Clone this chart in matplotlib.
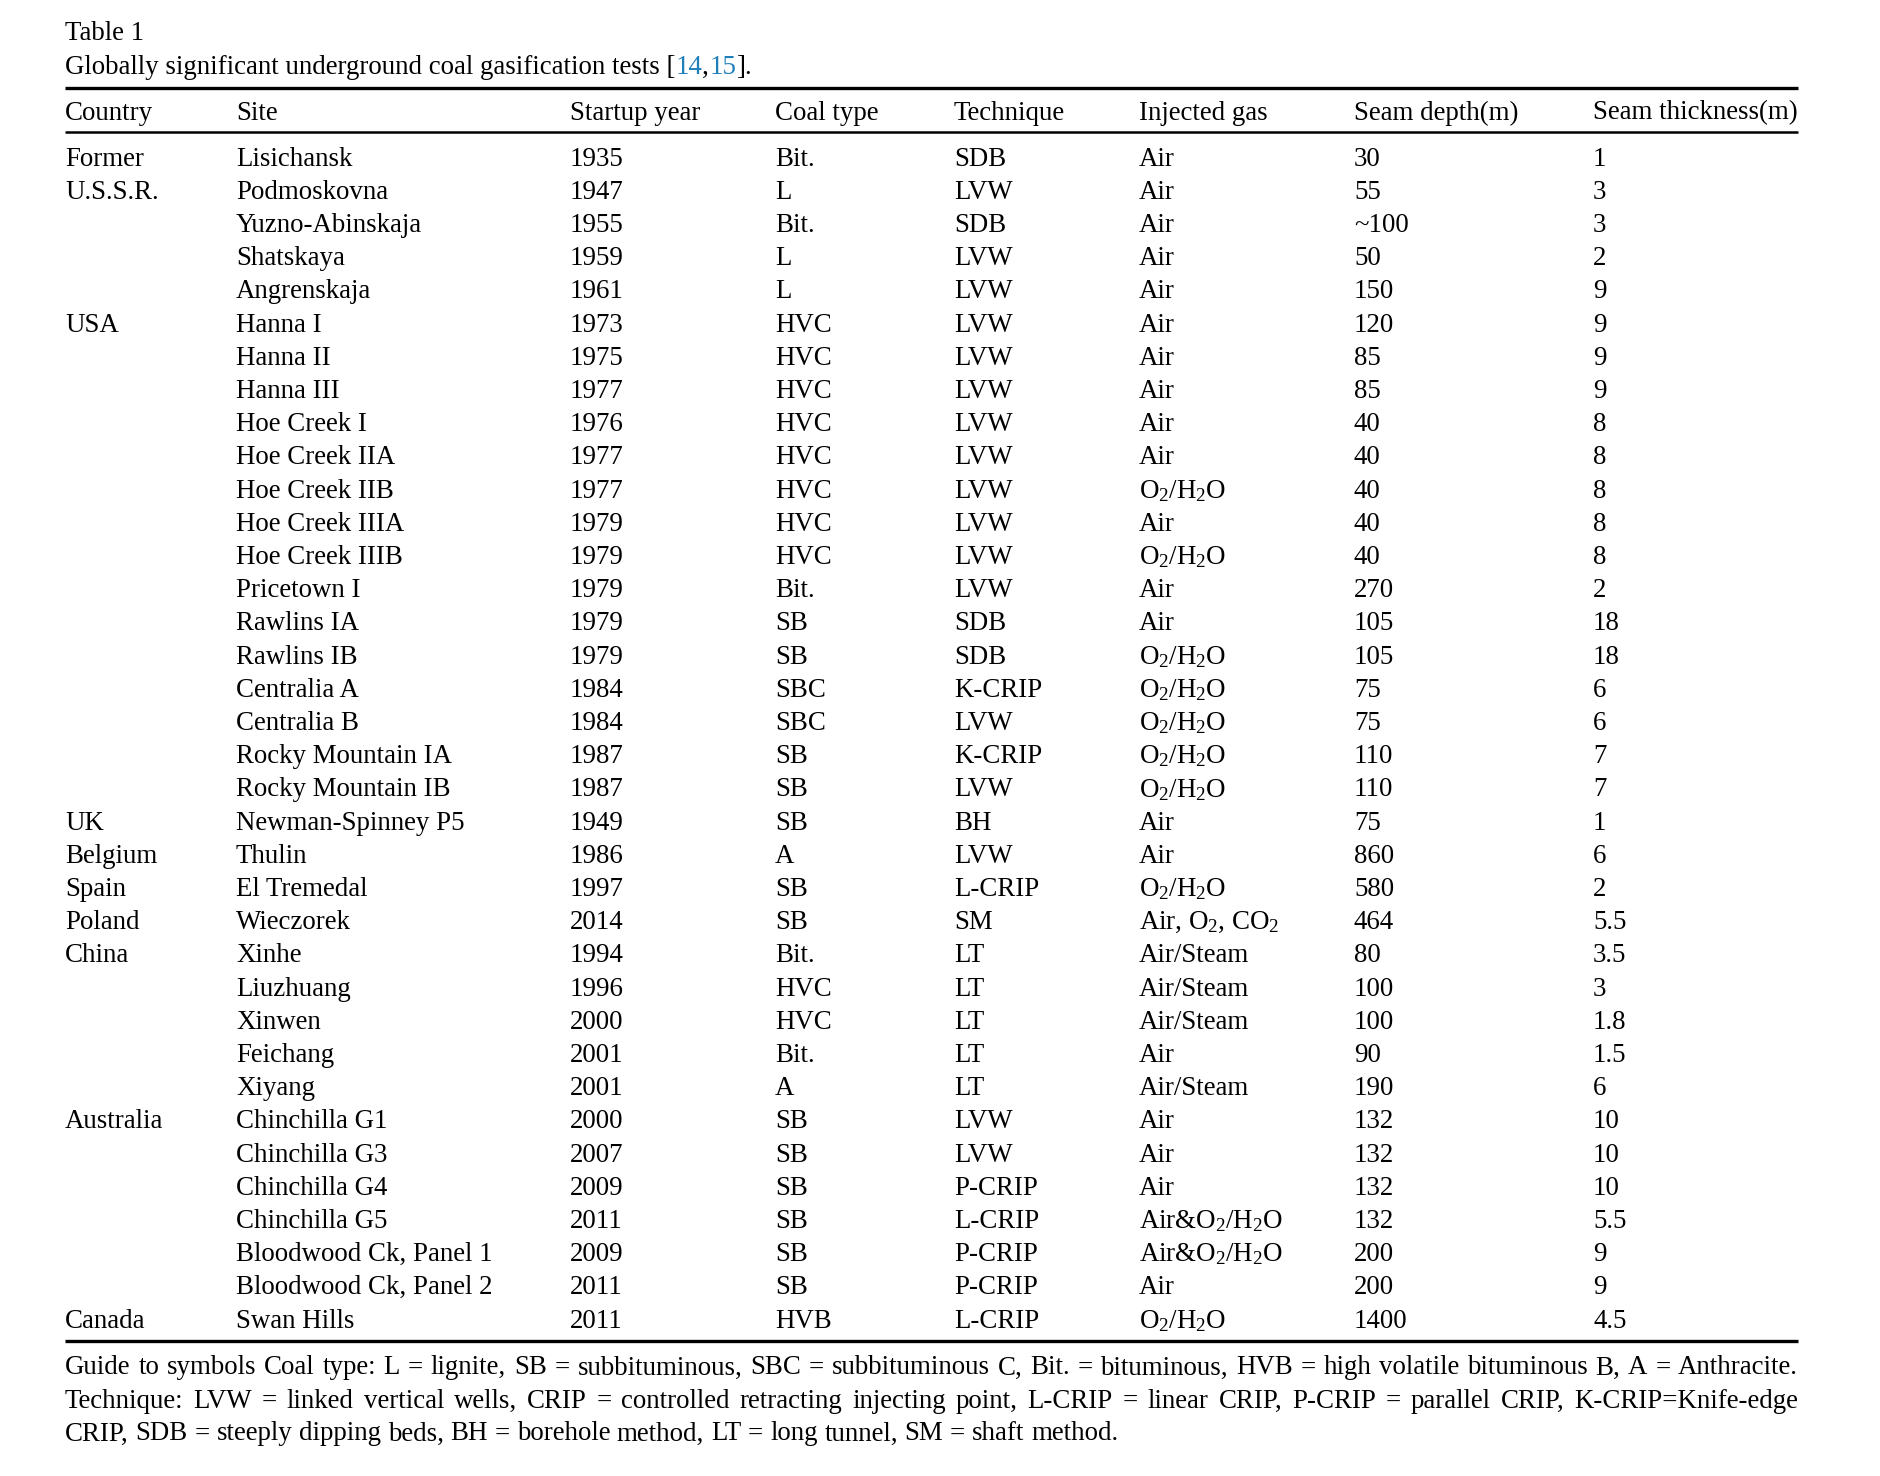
import matplotlib
matplotlib.use("Agg")
import matplotlib.pyplot as plt

plt.rcParams["font.family"] = ["Liberation Serif", "DejaVu Serif"]
plt.rcParams["mathtext.fontset"] = "custom"
plt.rcParams["mathtext.rm"] = "Liberation Serif"
plt.rcParams["mathtext.it"] = "Liberation Serif:italic"

# datos de la tabla
headers = ["Country", "Site", "Startup year", "Coal type", "Technique",
           "Injected gas", "Seam depth(m)", "Seam thickness(m)"]

country = ["Former", "U.S.S.R.", "", "", "", "USA", "", "", "", "", "", "", "", "", "", "",
           "", "", "", "", "UK", "Belgium", "Spain", "Poland", "China", "", "", "", "",
           "Australia", "", "", "", "", "", "Canada"]

site = ["Lisichansk", "Podmoskovna", "Yuzno-Abinskaja", "Shatskaya", "Angrenskaja",
        "Hanna I", "Hanna II", "Hanna III", "Hoe Creek I", "Hoe Creek IIA", "Hoe Creek IIB",
        "Hoe Creek IIIA", "Hoe Creek IIIB", "Pricetown I", "Rawlins IA", "Rawlins IB",
        "Centralia A", "Centralia B", "Rocky Mountain IA", "Rocky Mountain IB",
        "Newman-Spinney P5", "Thulin", "El Tremedal", "Wieczorek", "Xinhe", "Liuzhuang",
        "Xinwen", "Feichang", "Xiyang", "Chinchilla G1", "Chinchilla G3", "Chinchilla G4",
        "Chinchilla G5", "Bloodwood Ck, Panel 1", "Bloodwood Ck, Panel 2", "Swan Hills"]

year = ["1935", "1947", "1955", "1959", "1961", "1973", "1975", "1977", "1976", "1977",
        "1977", "1979", "1979", "1979", "1979", "1979", "1984", "1984", "1987", "1987",
        "1949", "1986", "1997", "2014", "1994", "1996", "2000", "2001", "2001", "2000",
        "2007", "2009", "2011", "2009", "2011", "2011"]

coal = ["Bit.", "L", "Bit.", "L", "L", "HVC", "HVC", "HVC", "HVC", "HVC", "HVC", "HVC",
        "HVC", "Bit.", "SB", "SB", "SBC", "SBC", "SB", "SB", "SB", "A", "SB", "SB", "Bit.",
        "HVC", "HVC", "Bit.", "A", "SB", "SB", "SB", "SB", "SB", "SB", "HVB"]

technique = ["SDB", "LVW", "SDB", "LVW", "LVW", "LVW", "LVW", "LVW", "LVW", "LVW", "LVW",
             "LVW", "LVW", "LVW", "SDB", "SDB", "K-CRIP", "LVW", "K-CRIP", "LVW", "BH",
             "LVW", "L-CRIP", "SM", "LT", "LT", "LT", "LT", "LT", "LVW", "LVW", "P-CRIP",
             "L-CRIP", "P-CRIP", "P-CRIP", "L-CRIP"]

OH = "O$_2$/H$_2$O"
gas = ["Air", "Air", "Air", "Air", "Air", "Air", "Air", "Air", "Air", "Air", OH, "Air", OH,
       "Air", "Air", OH, OH, OH, OH, OH, "Air", "Air", OH, "Air, O$_2$, CO$_2$",
       "Air/Steam", "Air/Steam", "Air/Steam", "Air", "Air/Steam", "Air", "Air", "Air",
       "Air&" + OH, "Air&" + OH, "Air", OH]

depth = ["30", "55", "~100", "50", "150", "120", "85", "85", "40", "40", "40", "40", "40",
         "270", "105", "105", "75", "75", "110", "110", "75", "860", "580", "464", "80",
         "100", "100", "90", "190", "132", "132", "132", "132", "200", "200", "1400"]

thickness = ["1", "3", "3", "2", "9", "9", "9", "9", "8", "8", "8", "8", "8", "2", "18",
             "18", "6", "6", "7", "7", "1", "6", "2", "5.5", "3.5", "3", "1.8", "1.5", "6",
             "10", "10", "10", "5.5", "9", "9", "4.5"]

footnote = [
    "Guide to symbols Coal type: L = lignite, SB = subbituminous, SBC = subbituminous C, "
    "Bit. = bituminous, HVB = high volatile bituminous B, A = Anthracite.",
    "Technique: LVW = linked vertical wells, CRIP = controlled retracting injecting point, "
    "L-CRIP = linear CRIP, P-CRIP = parallel CRIP, K-CRIP=Knife-edge",
    "CRIP, SDB = steeply dipping beds, BH = borehole method, LT = long tunnel, SM = shaft method.",
]

W, H = 1880, 1476
FS = 19.4
col_x = [65, 236, 570, 775, 954, 1139, 1354, 1593]
left, right = 65, 1798

fig = plt.figure(figsize=(W / 100, H / 100), dpi=100)
ax = fig.add_axes([0, 0, 1, 1])
ax.set_xlim(0, W)
ax.set_ylim(H, 0)
ax.axis("off")
renderer = fig.canvas.get_renderer()


def width_of(t):
    return t.get_window_extent(renderer=renderer).width


# titulo
ax.text(left, 33, "Table 1", fontsize=FS, va="center", ha="left")
x = left
for piece, color in [("Globally significant underground coal gasification tests [", "black"),
                     ("14", "#1f7fba"), (",", "black"), ("15", "#1f7fba"), ("].", "black")]:
    t = ax.text(x, 67, piece, fontsize=FS, va="center", ha="left", color=color)
    x += width_of(t)

# reglas
ax.plot([left, right], [88, 88], color="black", lw=2.4, solid_capstyle="butt")
ax.plot([left, right], [132, 132], color="black", lw=1.8, solid_capstyle="butt")
ax.plot([left, right], [1341, 1341], color="black", lw=2.4, solid_capstyle="butt")

for cx, h in zip(col_x, headers):
    ax.text(cx, 113, h, fontsize=FS, va="center", ha="left")

row0, dy = 159, 33.2
columns = [country, site, year, coal, technique, gas, depth, thickness]
for i in range(len(site)):
    y = row0 + i * dy
    for cx, col in zip(col_x, columns):
        if col[i]:
            ax.text(cx, y, col[i], fontsize=FS, va="center", ha="left")

# ancho de un espacio
t1 = ax.text(300, 300, "a b", fontsize=FS)
t2 = ax.text(300, 300, "ab", fontsize=FS)
space = width_of(t1) - width_of(t2)
t1.remove()
t2.remove()

# nota al pie justificada
foot_y = [1368, 1401, 1434]
for k, (line, fy) in enumerate(zip(footnote, foot_y)):
    words = line.split(" ")
    texts = [ax.text(left, fy, w, fontsize=FS, va="center", ha="left") for w in words]
    widths = [width_of(t) for t in texts]
    if k < len(footnote) - 1:
        gap = (right - left - sum(widths)) / (len(words) - 1)
    else:
        gap = space
    xx = left
    for t, w in zip(texts, widths):
        t.set_x(xx)
        xx += w + gap

fig.savefig("out.png", dpi=100)
